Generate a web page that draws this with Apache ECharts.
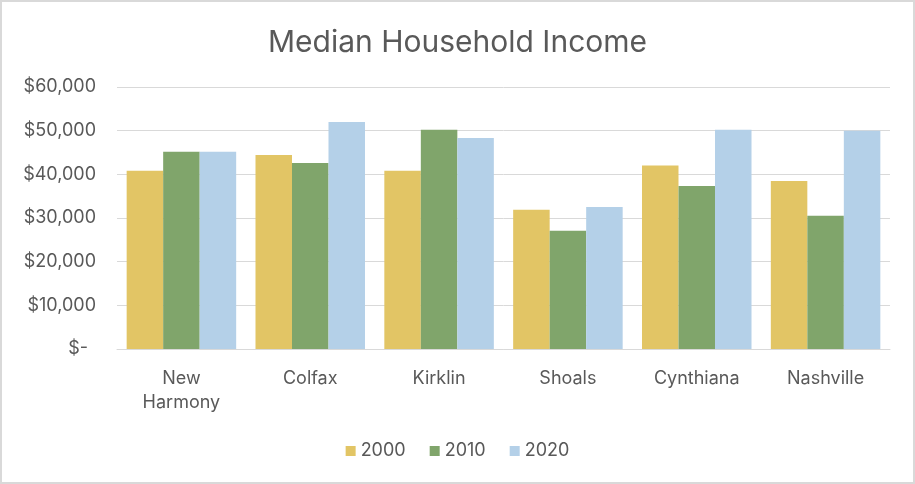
<!DOCTYPE html>
<html><head><meta charset="utf-8">
<script src="https://cdn.jsdelivr.net/npm/echarts@6/dist/echarts.min.js"></script>
<style>
html,body{margin:0;padding:0;background:#fff;}
#c{position:absolute;left:0;top:0;width:911px;height:480px;border:2px solid #d9d9d9;}
</style></head><body>
<div id="c"></div>
<script>
const categories = ["New Harmony", "Colfax", "Kirklin", "Shoals", "Cynthiana", "Nashville"];
const seriesNames = ["2000", "2010", "2020"];
const values2000 = [40800, 44400, 40800, 31900, 42000, 38500];
const values2010 = [45200, 42600, 50200, 27100, 37300, 30500];
const values2020 = [45200, 52000, 48300, 32500, 50200, 50000];
const colors = ["#e2c565", "#80a56b", "#b4d0e8"];

const chart = echarts.init(document.getElementById('c'));
const font = "Inter, 'Open Sans', sans-serif";
chart.setOption({
  animation: false,
  title: {text: "Median Household Income", left: 'center', top: 21,
    textStyle: {fontFamily: font, fontSize: 30, fontWeight: 'normal', color: '#595959'}},
  grid: {left: 115, right: 23, top: 85, bottom: 133},
  legend: {bottom: 17, left: 'center', itemWidth: 10, itemHeight: 10, itemGap: 24,
    icon: 'rect', textStyle: {fontFamily: font, fontSize: 18, color: '#595959'}},
  xAxis: {type: 'category', data: categories,
    axisLine: {lineStyle: {color: '#d9d9d9', width: 1}}, axisTick: {show: false},
    axisLabel: {fontFamily: font, fontSize: 18, color: '#595959', margin: 18, lineHeight: 24,
      formatter: v => v.replace(' ', '\n')}},
  yAxis: {type: 'value', min: 0, max: 60000, interval: 10000,
    splitLine: {lineStyle: {color: '#d9d9d9', width: 1}},
    axisLabel: {fontFamily: font, fontSize: 18, color: '#595959', margin: 21,
      formatter: v => v === 0 ? '{z|$-}' : '$' + v.toLocaleString('en-US'),
      rich: {z: {fontFamily: font, fontSize: 18, color: '#595959', padding: [0, 8, 0, 0]}}}},
  series: [values2000, values2010, values2020].map((d, i) => ({
    name: seriesNames[i], type: 'bar', data: d, barGap: '0%', barCategoryGap: '15%',
    itemStyle: {color: colors[i]}
  }))
});
</script></body></html>
